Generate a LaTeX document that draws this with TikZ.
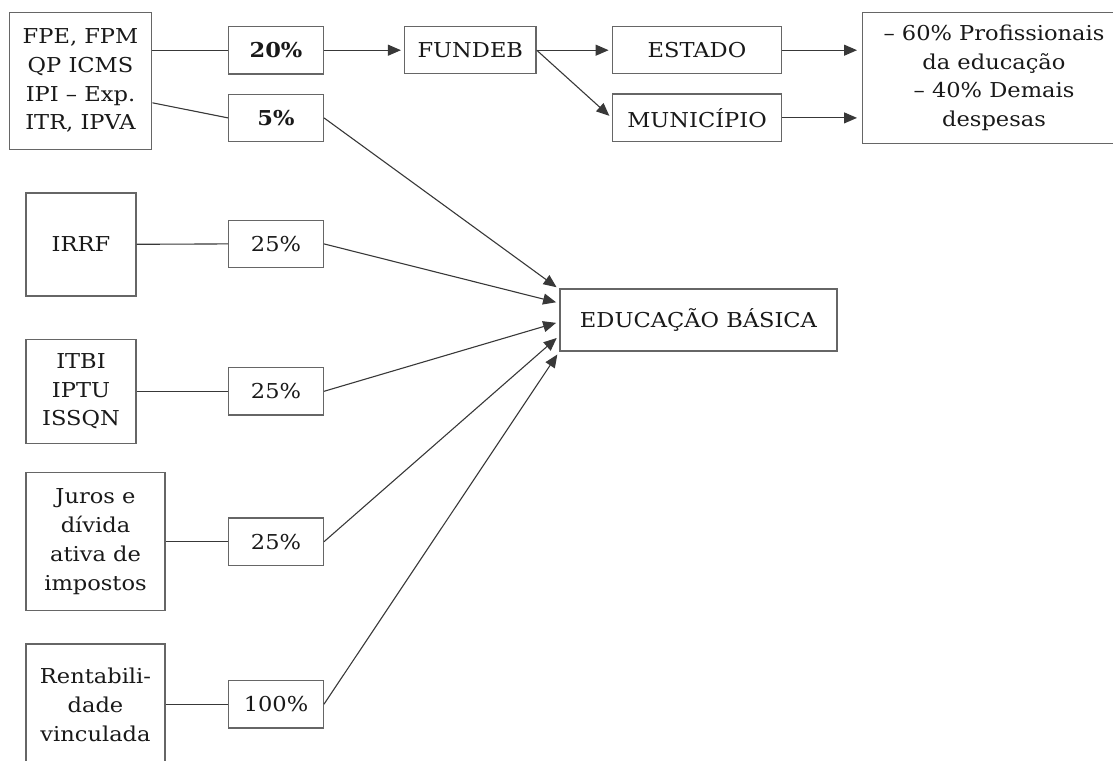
\documentclass[tikz,border=0pt]{standalone}
\usepackage{fontspec}
\setmainfont{DejaVu Serif}[FakeStretch=1.1]
\usetikzlibrary{arrows.meta}
\begin{document}
\begin{tikzpicture}[x=1pt,y=-1pt,
  box/.style={draw=black!60, line width=1.4pt, text=black!90, align=center, inner sep=0pt,
    font=\fontsize{20.5pt}{28.7pt}\selectfont},
  pct/.style={box, minimum width=94.6pt, minimum height=47.3pt},
  link/.style={draw=black!78, line width=1.1pt},
  arr/.style={link, -{Triangle[length=13pt,width=11pt]}, shorten >=3pt}]
\useasboundingbox (0,0) rectangle (1113,760);

% sources
\node[box, minimum width=142.4pt, minimum height=137pt] (tl) at (80.5,80.8)
  {FPE, FPM\\QP ICMS\\IPI -- Exp.\\ITR, IPVA};
\node[box, minimum width=109.7pt, minimum height=103pt] (irrf) at (81,244.3) {IRRF};
\node[box, minimum width=109.7pt, minimum height=104pt] (itbi) at (81,391.3) {ITBI\\IPTU\\ISSQN};
\node[box, minimum width=139pt, minimum height=138pt] (juros) at (95.5,541.7)
  {Juros e\\dívida\\ativa de\\impostos};
\node[box, minimum width=139pt, minimum height=122pt] (rent) at (95.5,705)
  {Rentabili-\\dade\\vinculada};

% percentages
\node[pct, font=\fontsize{20.5pt}{28.7pt}\selectfont\bfseries] (p20) at (276,50.2) {20\%};
\node[pct, font=\fontsize{20.5pt}{28.7pt}\selectfont\bfseries] (p5) at (276,117.9) {5\%};
\node[pct] (p25a) at (276,243.9) {25\%};
\node[pct] (p25b) at (276,391.3) {25\%};
\node[pct] (p25c) at (276,541.7) {25\%};
\node[pct] (p100) at (276,704.2) {100\%};

% upper chain
\node[box, minimum width=131.4pt, minimum height=47pt] (fundeb) at (470.3,50.2) {FUNDEB};
\node[box, minimum width=169.4pt, minimum height=47pt] (estado) at (697,50.2) {ESTADO};
\node[box, minimum width=169.4pt, minimum height=47.7pt] (mun) at (697,117.9) {MUNICÍPIO};
\node[box, minimum width=262.6pt, minimum height=131pt] (dest) at (994,77.8)
  {-- 60\% Profissionais\\da educação\\-- 40\% Demais\\despesas};

% target
\node[box, minimum width=277pt, minimum height=62pt] (edu) at (698.5,320) {EDUCAÇÃO BÁSICA};

\coordinate (e1) at (559,289);
\coordinate (e2) at (559,303);
\coordinate (e3) at (559,322);
\coordinate (e4) at (559,336);
\coordinate (e5) at (559,352);

% connectors from sources
\draw[link] (tl.east |- p20.west) -- (p20.west);
\draw[link] ([yshift=-22pt]tl.east) -- (p5.west);
\draw[link] (irrf.east) -- (p25a.west);
\draw[link] (itbi.east) -- (p25b.west);
\draw[link] (juros.east |- p25c.west) -- (p25c.west);
\draw[link] (rent.east |- p100.west) -- (p100.west);

% upper arrows
\draw[arr] (p20.east) -- (fundeb.west);
\draw[arr] (fundeb.east) -- (estado.west);
\draw[arr] (fundeb.east) -- (mun.west);
\draw[arr, shorten >=5pt] (estado.east) -- (dest.west |- estado.east);
\draw[arr, shorten >=5pt] (mun.east) -- (dest.west |- mun.east);

% arrows to EDUCAÇÃO BÁSICA
\draw[arr] (p5.east) -- (e1);
\draw[arr] (p25a.east) -- (e2);
\draw[arr] (p25b.east) -- (e3);
\draw[arr] (p25c.east) -- (e4);
\draw[arr] (p100.east) -- (e5);
\end{tikzpicture}
\end{document}
